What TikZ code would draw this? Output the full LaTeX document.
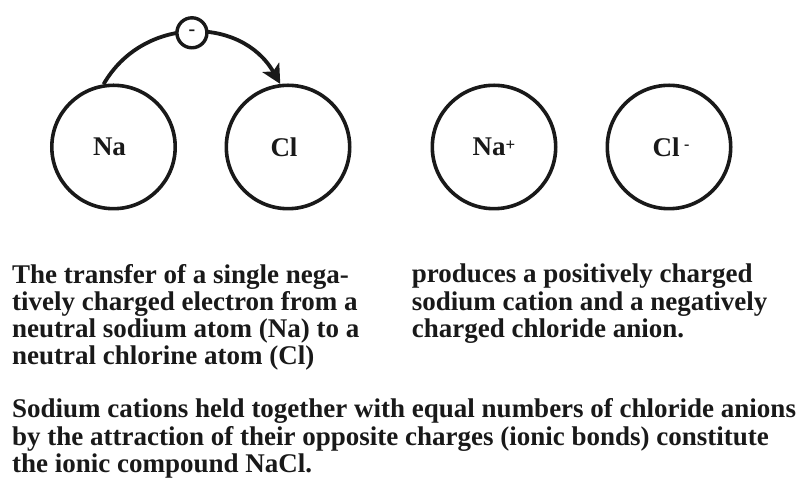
\documentclass[tikz,border=0pt]{standalone}
\usepackage{fontspec}
\setmainfont{Liberation Serif}
\usetikzlibrary{arrows.meta}
\begin{document}
\begin{tikzpicture}[x=1pt,y=1pt,
  atom/.style={circle,draw=black!90,line width=3.6pt,minimum size=123.4pt,inner sep=0pt,
    text=black!90,font=\fontsize{27}{27}\selectfont\bfseries},
  electron/.style={circle,draw=black!90,fill=white,line width=3.4pt,minimum size=30pt,inner sep=0pt,
    text=black!90,font=\fontsize{20}{20}\selectfont\bfseries},
  transfer/.style={draw=black!90,line width=3.8pt,-{Stealth[length=19pt,width=19pt,inset=4.5pt]}},
  para/.style={align=left,inner sep=0pt,anchor=base west,text=black!90,
    font=\fontsize{27}{27.3}\selectfont\bfseries}]
\useasboundingbox (0,0) rectangle (801,479);
\node[atom] (na) at (113.5,332) {\hspace*{-8pt}Na};
\node[atom] (cl) at (288,332) {\hspace*{-8pt}Cl};
\node[atom] (nap) at (494,332) {Na\raisebox{5pt}{\fontsize{17}{17}\selectfont +}};
\node[atom] (clm) at (669,332) {\hspace*{4pt}Cl\,\raisebox{7pt}{\fontsize{16}{16}\selectfont -}};
\draw[transfer] (na.99) to[out=60.3,in=119.7,looseness=1.139] node[electron,pos=0.5] (e) {-} (cl.97);
\node[para] (t1) at (12,114) {The transfer of a single nega-\\tively charged electron from a\\neutral sodium atom (Na) to a\\neutral chlorine atom (Cl)};
\node[para] (t2) at (411.7,141.4) {produces a positively charged\\sodium cation and a negatively\\charged chloride anion.};
\node[para] (t3) at (12,6.4) {Sodium cations held together with equal numbers of chloride anions\\by the attraction of their opposite charges (ionic bonds) constitute\\the ionic compound NaCl.};
\end{tikzpicture}
\end{document}
